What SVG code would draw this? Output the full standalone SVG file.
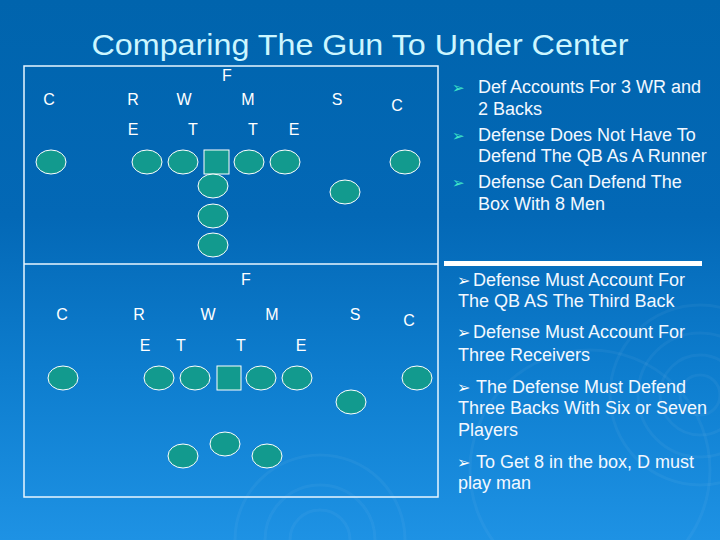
<svg xmlns="http://www.w3.org/2000/svg" width="720" height="540" viewBox="0 0 720 540">
<defs>
<linearGradient id="bg" x1="0" y1="0" x2="0" y2="1">
<stop offset="0" stop-color="#0064AD"/>
<stop offset="0.4" stop-color="#0368B6"/>
<stop offset="0.7" stop-color="#0E7ECF"/>
<stop offset="1" stop-color="#1E92E4"/>
</linearGradient>
<style>
.lbl{font-family:"Liberation Sans",Arial,sans-serif;font-size:16px;fill:#ffffff;text-anchor:middle}
.p{fill:#129A8E;stroke:#ffffff;stroke-width:1}
.txt{font-family:"Liberation Sans",Arial,sans-serif;font-size:18px;fill:#F2F8FF}
.bul1{font-family:"DejaVu Sans",sans-serif;font-size:15px;fill:#3FE6C8}
.bul2{font-family:"DejaVu Sans",sans-serif;font-size:16px;fill:#ffffff}
.ring{fill:none;stroke:#ffffff;stroke-opacity:0.045;stroke-width:3}
</style>
</defs>
<rect width="720" height="540" fill="url(#bg)"/>
<g id="ripples">
<circle class="ring" cx="700" cy="395" r="20"/>
<circle class="ring" cx="700" cy="395" r="40"/>
<circle class="ring" cx="700" cy="395" r="62"/>
<circle class="ring" cx="700" cy="395" r="90"/>
<circle class="ring" cx="320" cy="540" r="30"/>
<circle class="ring" cx="320" cy="540" r="55"/>
<circle class="ring" cx="320" cy="540" r="85"/>
<circle class="ring" cx="590" cy="470" r="120"/>
</g>
<text x="360" y="55" font-family="'Liberation Sans',Arial,sans-serif" font-size="30" fill="#CCF6FF" text-anchor="middle" textLength="537" lengthAdjust="spacingAndGlyphs">Comparing The Gun To Under Center</text>
<g id="frame" fill="none" stroke="#E8F6FF" stroke-width="1.5">
<rect x="24" y="66" width="414" height="431"/>
<line x1="24" y1="264" x2="438" y2="264"/>
</g>
<rect x="444" y="261" width="258" height="5" fill="#ffffff"/>
<g id="top-diagram">
<g id="top-labels">
<text class="lbl" x="227" y="81">F</text>
<text class="lbl" x="49" y="105">C</text>
<text class="lbl" x="133" y="105">R</text>
<text class="lbl" x="184" y="105">W</text>
<text class="lbl" x="248" y="105">M</text>
<text class="lbl" x="337" y="105">S</text>
<text class="lbl" x="397" y="111">C</text>
<text class="lbl" x="133" y="135">E</text>
<text class="lbl" x="193" y="135">T</text>
<text class="lbl" x="253" y="135">T</text>
<text class="lbl" x="294" y="135">E</text>
</g>
<g id="top-players">
<ellipse class="p" cx="51" cy="162" rx="15" ry="12"/>
<ellipse class="p" cx="147" cy="162" rx="15" ry="12"/>
<ellipse class="p" cx="183" cy="162" rx="15" ry="12"/>
<rect class="p" x="204" y="150" width="25" height="24"/>
<ellipse class="p" cx="249" cy="162" rx="15" ry="12"/>
<ellipse class="p" cx="285" cy="162" rx="15" ry="12"/>
<ellipse class="p" cx="405" cy="162" rx="15" ry="12"/>
<ellipse class="p" cx="345" cy="192" rx="15" ry="12"/>
<ellipse class="p" cx="213" cy="186" rx="15" ry="12"/>
<ellipse class="p" cx="213" cy="216" rx="15" ry="12"/>
<ellipse class="p" cx="213" cy="245" rx="15" ry="12"/>
</g>
</g>
<g id="bottom-diagram">
<g id="bottom-labels">
<text class="lbl" x="246" y="285">F</text>
<text class="lbl" x="62" y="320">C</text>
<text class="lbl" x="139" y="320">R</text>
<text class="lbl" x="208" y="320">W</text>
<text class="lbl" x="272" y="320">M</text>
<text class="lbl" x="355" y="320">S</text>
<text class="lbl" x="409" y="326">C</text>
<text class="lbl" x="145" y="351">E</text>
<text class="lbl" x="181" y="351">T</text>
<text class="lbl" x="241" y="351">T</text>
<text class="lbl" x="301" y="351">E</text>
</g>
<g id="bottom-players">
<ellipse class="p" cx="63" cy="378" rx="15" ry="12"/>
<ellipse class="p" cx="159" cy="378" rx="15" ry="12"/>
<ellipse class="p" cx="195" cy="378" rx="15" ry="12"/>
<rect class="p" x="217" y="366" width="24" height="24"/>
<ellipse class="p" cx="261" cy="378" rx="15" ry="12"/>
<ellipse class="p" cx="297" cy="378" rx="15" ry="12"/>
<ellipse class="p" cx="417" cy="378" rx="15" ry="12"/>
<ellipse class="p" cx="351" cy="402" rx="15" ry="12"/>
<ellipse class="p" cx="183" cy="456" rx="15" ry="12"/>
<ellipse class="p" cx="225" cy="444" rx="15" ry="12"/>
<ellipse class="p" cx="267" cy="456" rx="15" ry="12"/>
</g>
</g>
<g id="top-notes">
<text class="bul1" x="452" y="93">➢</text>
<text class="txt" x="478" y="93">Def Accounts For 3 WR and</text>
<text class="txt" x="478" y="115">2 Backs</text>
<text class="bul1" x="452" y="141">➢</text>
<text class="txt" x="478" y="141">Defense Does Not Have To</text>
<text class="txt" x="478" y="162">Defend The QB As A Runner</text>
<text class="bul1" x="452" y="188">➢</text>
<text class="txt" x="478" y="188">Defense Can Defend The</text>
<text class="txt" x="478" y="210">Box With 8 Men</text>
</g>
<g id="bottom-notes">
<text class="bul2" x="457" y="286">➢</text>
<text class="txt" x="473" y="286">Defense Must Account For</text>
<text class="txt" x="458" y="307">The QB AS The Third Back</text>
<text class="bul2" x="457" y="338">➢</text>
<text class="txt" x="473" y="338">Defense Must Account For</text>
<text class="txt" x="458" y="361">Three Receivers</text>
<text class="bul2" x="457" y="393">➢</text>
<text class="txt" x="476" y="393">The Defense Must Defend</text>
<text class="txt" x="458" y="414">Three Backs With Six or Seven</text>
<text class="txt" x="458" y="436">Players</text>
<text class="bul2" x="457" y="468">➢</text>
<text class="txt" x="476" y="468">To Get 8 in the box, D must</text>
<text class="txt" x="458" y="489">play man</text>
</g>
</svg>
